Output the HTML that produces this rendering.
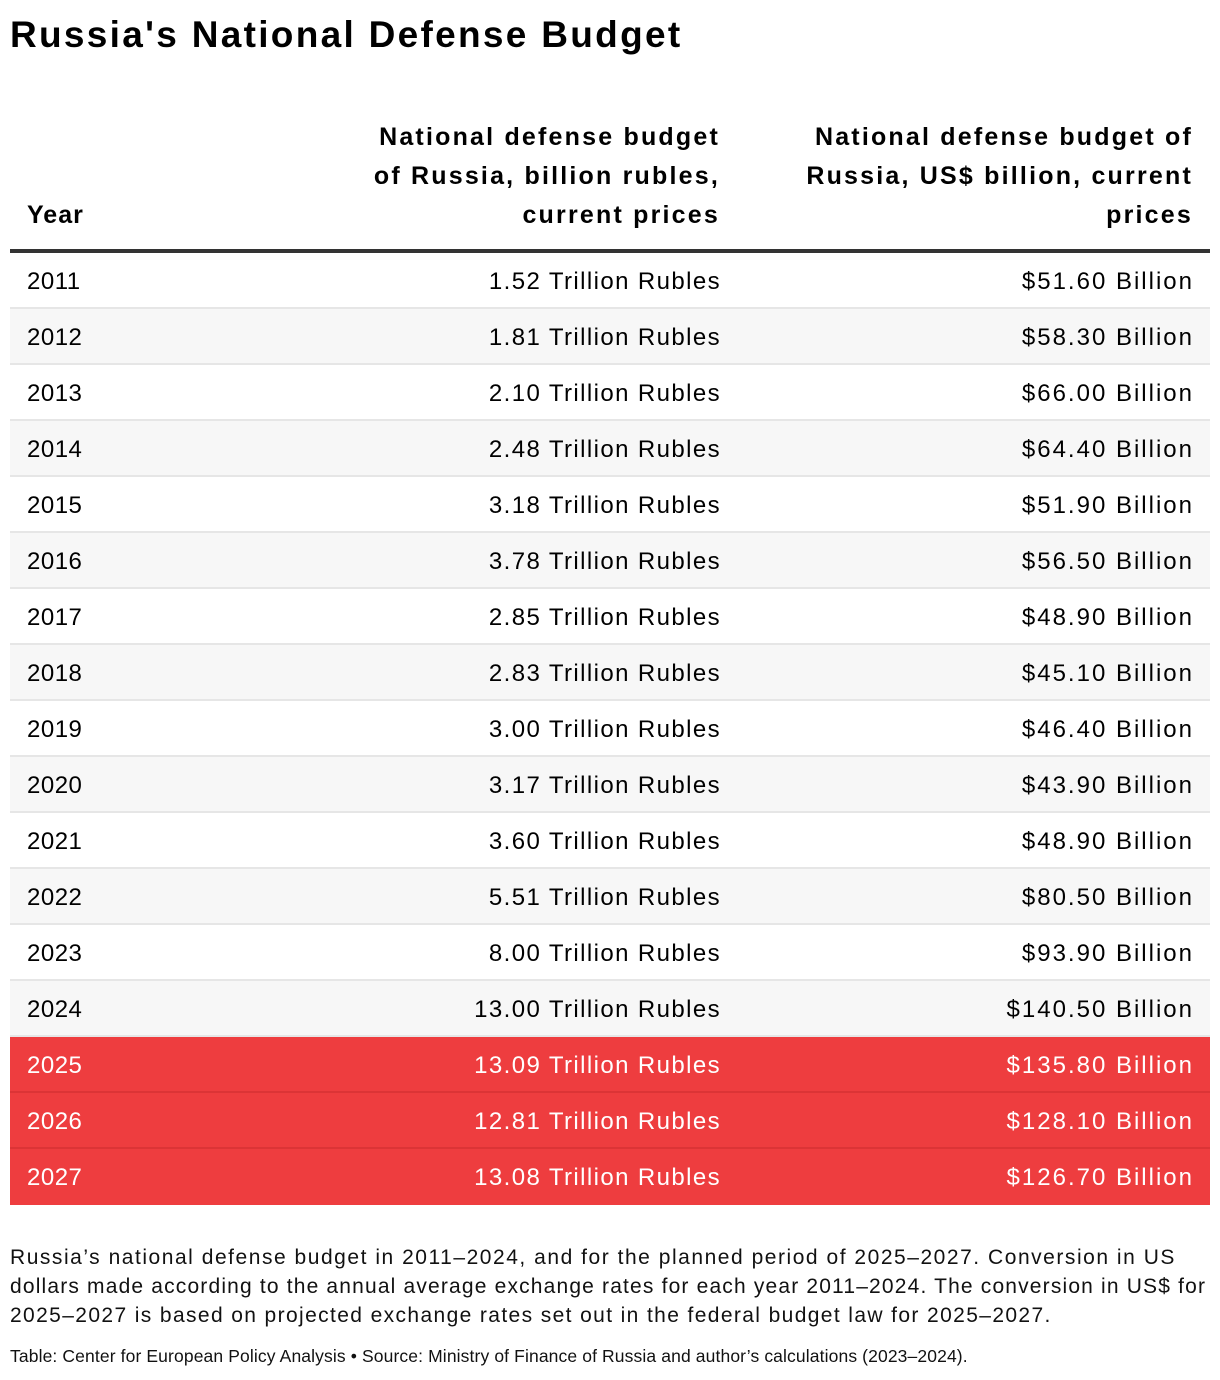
<!DOCTYPE html>
<html><head><meta charset="utf-8"><style>
body{margin:0;width:1220px;height:1380px;background:#fff;font-family:"Liberation Sans",sans-serif;color:#000;position:relative;overflow:hidden}
.t{position:absolute;left:10px;top:14px;font-size:37px;font-weight:bold;letter-spacing:2.3px}
.h{position:absolute;font-size:25px;font-weight:bold;line-height:39px;text-align:right;letter-spacing:2.2px}
.row{position:absolute;left:10px;width:1200px;height:56px;font-size:24px;line-height:56px;box-sizing:border-box;border-bottom:2px solid #e6e6e6;letter-spacing:1.4px}
.row span{position:absolute;top:1px}
.c1{left:17px;letter-spacing:0.5px}.c2{right:489px}.c3{right:16px;letter-spacing:2px}
.red{background:#ee3d3f;color:#fff;border-bottom-color:#dc3436}
.foot{position:absolute;left:10px;top:1243px;width:1215px;font-size:21px;line-height:29px;color:#111;white-space:nowrap}
.foot div{height:29px}
.src{position:absolute;left:10px;top:1346px;font-size:17.5px;color:#111;letter-spacing:0.12px}
</style></head><body>
<div class="t">Russia's National Defense Budget</div>
<div class="h" style="left:27px;top:196px;text-align:left;letter-spacing:1px">Year</div>
<div class="h" style="right:500px;top:118px">National defense budget<br>of Russia, billion rubles,<br>current prices</div>
<div class="h" style="right:27px;top:118px">National defense budget of<br>Russia, US$ billion, current<br>prices</div>
<div style="position:absolute;left:10px;top:249px;width:1200px;height:4px;background:#333"></div>
<div id="tbl"></div>
<div class="foot"><div style="letter-spacing:1.53px">Russia’s national defense budget in 2011–2024, and for the planned period of 2025–2027. Conversion in US</div><div style="letter-spacing:1.17px">dollars made according to the annual average exchange rates for each year 2011–2024. The conversion in US$ for</div><div style="letter-spacing:1.38px">2025–2027 is based on projected exchange rates set out in the federal budget law for 2025–2027.</div></div>
<div class="src">Table: Center for European Policy Analysis • Source: Ministry of Finance of Russia and author’s calculations (2023–2024).</div>
<script>
const years=[2011,2012,2013,2014,2015,2016,2017,2018,2019,2020,2021,2022,2023,2024,2025,2026,2027];
const rubles=[1.52,1.81,2.10,2.48,3.18,3.78,2.85,2.83,3.00,3.17,3.60,5.51,8.00,13.00,13.09,12.81,13.08];
const usd=[51.60,58.30,66.00,64.40,51.90,56.50,48.90,45.10,46.40,43.90,48.90,80.50,93.90,140.50,135.80,128.10,126.70];
const planned=[false,false,false,false,false,false,false,false,false,false,false,false,false,false,true,true,true];
const tbl=document.getElementById('tbl');
years.forEach((y,i)=>{
  const r=document.createElement('div');
  
  
  r.className='row'+(planned[i]?' red':'');
  r.style.top=(253+i*56)+'px';
  if(!planned[i]&&i%2==1) r.style.background='#f7f7f7';
  if(planned[i]) r.style.borderBottomColor = (i==years.length-1)?'#ee3d3f':'#dc3436';
  const a=document.createElement('span');a.className='c1';a.textContent=y;
  
  
  const b=document.createElement('span');b.className='c2';b.textContent=rubles[i].toFixed(2)+' Trillion Rubles';
  
  
  const c=document.createElement('span');c.className='c3';c.textContent='$'+usd[i].toFixed(2)+' Billion';
  
  
  r.append(a,b,c);tbl.appendChild(r);
});
</script>
</body></html>
